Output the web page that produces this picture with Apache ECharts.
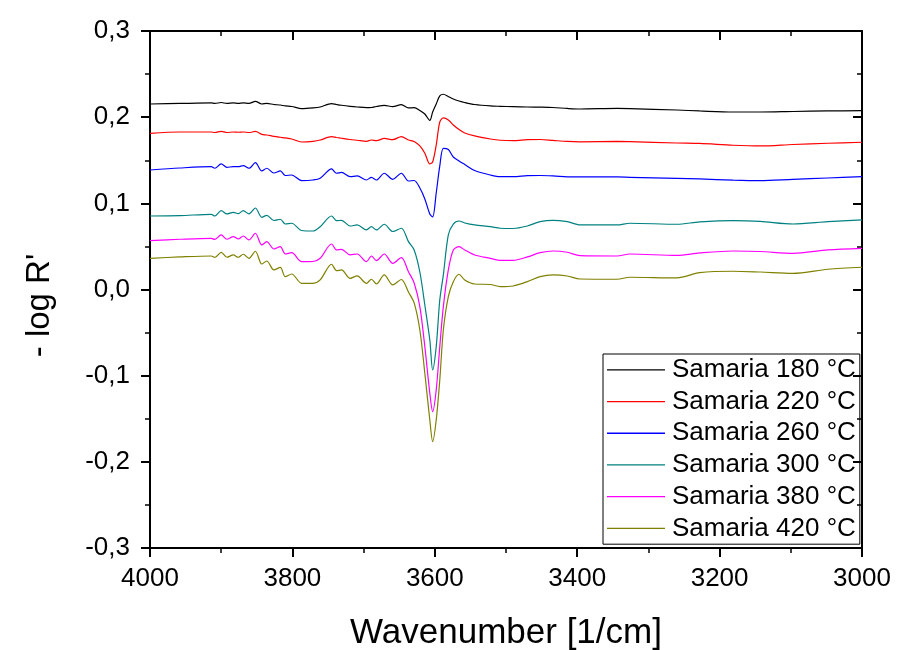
<!DOCTYPE html>
<html>
<head>
<meta charset="utf-8">
<script src="https://cdn.jsdelivr.net/npm/echarts@6/dist/echarts.min.js"></script>
<style>
html,body{margin:0;padding:0;background:#fff;}
#chart{width:897px;height:650px;}
</style>
</head>
<body>
<div id="chart"></div>
<script>
// Wavenumbers (1/cm)
const wavenumbers = [4000,3958,3914,3909,3900,3892,3883,3876,3869,3861,3852,3843,3836,3826,3817,3810,3801,3787,3771,3761,3745,3738,3731,3719,3709,3696,3689,3682,3671,3659,3647,3637,3629,3621,3614,3607,3603,3598,3593,3588,3581,3574,3566,3558,3544,3522,3508,3490,3470,3452,3434,3414,3396,3344,3326,3260,3228,3181,3143,3097,3048,3000];

const seriesNames = ['Samaria 180 °C','Samaria 220 °C','Samaria 260 °C','Samaria 300 °C','Samaria 380 °C','Samaria 420 °C'];

const s180 = [0.2153,0.2159,0.2165,0.2159,0.2170,0.2159,0.2165,0.2159,0.2165,0.2159,0.2184,0.2153,0.2161,0.2147,0.2141,0.2130,0.2124,0.2099,0.2107,0.2118,0.2157,0.2147,0.2138,0.2126,0.2118,0.2110,0.2112,0.2124,0.2138,0.2122,
0.2145,0.2107,0.2110,0.2078,0.2037,0.1962,0.2060,0.2153,0.2246,0.2266,0.2240,0.2211,0.2188,0.2170,0.2147,0.2130,0.2126,0.2122,0.2118,0.2116,0.2112,0.2101,0.2095,0.2101,0.2099,0.2083,0.2072,0.2060,0.2060,0.2066,0.2072,0.2075];

const s220 = [0.1813,0.1828,0.1828,0.1822,0.1836,0.1822,0.1828,0.1825,0.1828,0.1822,0.1834,0.1801,0.1793,0.1778,0.1767,0.1759,0.1747,0.1712,0.1720,0.1735,0.1774,0.1764,0.1755,0.1741,0.1732,0.1720,0.1735,0.1727,0.1753,0.1739,
0.1774,0.1735,0.1718,0.1666,0.1581,0.1457,0.1480,0.1677,0.1944,0.1991,0.1967,0.1909,0.1857,0.1817,0.1782,0.1747,0.1732,0.1727,0.1739,0.1741,0.1730,0.1718,0.1714,0.1718,0.1716,0.1700,0.1695,0.1674,0.1666,0.1683,0.1697,0.1709];

const s260 = [0.1387,0.1410,0.1425,0.1407,0.1457,0.1418,0.1425,0.1425,0.1437,0.1407,0.1472,0.1376,0.1407,0.1352,0.1376,0.1323,0.1329,0.1263,0.1271,0.1291,0.1399,0.1349,0.1360,0.1309,0.1318,0.1271,0.1302,0.1271,0.1349,0.1279,
0.1349,0.1259,0.1265,0.1178,0.1051,0.0877,0.0842,0.1120,0.1434,0.1637,0.1625,0.1538,0.1492,0.1451,0.1381,0.1329,0.1309,0.1309,0.1321,0.1323,0.1318,0.1308,0.1306,0.1306,0.1302,0.1289,0.1283,0.1269,0.1263,0.1279,0.1294,0.1309];

const s300 = [0.0853,0.0857,0.0873,0.0853,0.0915,0.0877,0.0896,0.0880,0.0915,0.0877,0.0946,0.0838,0.0861,0.0801,0.0815,0.0760,0.0769,0.0685,0.0679,0.0729,0.0853,0.0799,0.0803,0.0737,0.0749,0.0691,0.0729,0.0691,0.0757,0.0673,
0.0711,0.0555,0.0459,0.0203,-0.0180,-0.0586,-0.0934,-0.0663,-0.0122,0.0169,0.0633,0.0760,0.0795,0.0772,0.0749,0.0729,0.0711,0.0708,0.0737,0.0787,0.0803,0.0787,0.0749,0.0749,0.0769,0.0757,0.0784,0.0799,0.0790,0.0760,0.0787,0.0807];

const s380 = [0.0567,0.0583,0.0594,0.0581,0.0633,0.0583,0.0613,0.0586,0.0621,0.0575,0.0653,0.0517,0.0555,0.0470,0.0497,0.0412,0.0427,0.0323,0.0325,0.0362,0.0528,0.0459,0.0465,0.0401,0.0412,0.0323,0.0389,0.0335,0.0412,0.0304,
0.0369,0.0207,0.0076,-0.0199,-0.0663,-0.1204,-0.1418,-0.1166,-0.0663,-0.0199,0.0227,0.0459,0.0497,0.0459,0.0401,0.0362,0.0337,0.0337,0.0378,0.0427,0.0447,0.0432,0.0393,0.0389,0.0412,0.0395,0.0424,0.0447,0.0441,0.0420,0.0459,0.0478];

const s420 = [0.0362,0.0378,0.0389,0.0372,0.0432,0.0374,0.0401,0.0374,0.0409,0.0362,0.0444,0.0296,0.0331,0.0227,0.0256,0.0149,0.0180,0.0072,0.0072,0.0111,0.0293,0.0219,0.0227,0.0130,0.0157,0.0072,0.0119,0.0064,0.0169,0.0053,
0.0116,-0.0029,-0.0156,-0.0470,-0.0972,-0.1514,-0.1766,-0.1514,-0.1050,-0.0470,-0.0083,0.0091,0.0177,0.0111,0.0064,0.0058,0.0033,0.0041,0.0091,0.0149,0.0169,0.0157,0.0122,0.0119,0.0142,0.0134,0.0195,0.0212,0.0203,0.0188,0.0235,0.0258];

const seriesColors = ['#000000','#ff0000','#0000ff','#008080','#ff00ff','#808000'];
const yTickLabels = ['-0,3','-0,2','-0,1','0,0','0,1','0,2','0,3'];

const allValues = [s180, s220, s260, s300, s380, s420];
const font = 'Liberation Sans, Arial, sans-serif';

const chart = echarts.init(document.getElementById('chart'), null, {renderer: 'canvas'});

function axisCommon(inside) {
  return {
    axisLine: {show: true, onZero: false, lineStyle: {color: '#000', width: 2}},
    axisTick: {show: true, inside: inside, length: 9, lineStyle: {color: '#000', width: 2}},
    minorTick: {show: true, splitNumber: 2, length: 5, lineStyle: {color: '#000', width: 1.5}},
    splitLine: {show: false},
    minorSplitLine: {show: false}
  };
}

const option = {
  animation: false,
  backgroundColor: '#fff',
  grid: {left: 150, right: 35, top: 31, bottom: 102, containLabel: false, outerBoundsMode: 'none'},
  xAxis: [
    Object.assign(axisCommon(false), {
      type: 'value', min: 3000, max: 4000, interval: 200, inverse: true, position: 'bottom',
      axisLabel: {fontSize: 26, color: '#000', fontFamily: font, margin: 18,
        formatter: v => String(Math.round(v))},
      name: 'Wavenumber [1/cm]', nameLocation: 'middle', nameGap: 68,
      nameTextStyle: {fontSize: 35, color: '#000', fontFamily: font}
    }),
    Object.assign(axisCommon(true), {
      type: 'value', min: 3000, max: 4000, interval: 200, inverse: true, position: 'top',
      axisLabel: {show: false}
    })
  ],
  yAxis: [
    Object.assign(axisCommon(false), {
      type: 'value', min: -0.3, max: 0.3, interval: 0.1, position: 'left',
      axisLabel: {fontSize: 26, color: '#000', fontFamily: font, margin: 20,
        formatter: v => yTickLabels[Math.round((v + 0.3) / 0.1)]},
      name: "- log R'", nameLocation: 'middle', nameGap: 94,
      nameTextStyle: {fontSize: 33, color: '#000', fontFamily: font, padding: [0, 32, 0, 0]}
    }),
    Object.assign(axisCommon(true), {
      type: 'value', min: -0.3, max: 0.3, interval: 0.1, position: 'right',
      axisLabel: {show: false}
    })
  ],
  legend: {
    orient: 'vertical', left: 603, top: 354,
    icon: 'rect',
    itemWidth: 58, itemHeight: 1.3, itemGap: 0,
    padding: [0, 4, 0, 4],
    borderColor: '#000', borderWidth: 1,
    textStyle: {fontSize: 26, color: '#000', fontFamily: font, lineHeight: 31.7, padding: [0, 0, 0, 2]},
    data: seriesNames
  },
  series: seriesNames.map((name, i) => ({
    name: name,
    type: 'line',
    xAxisIndex: 0, yAxisIndex: 0,
    symbol: 'none', showSymbol: false,
    smooth: 0.3,
    lineStyle: {color: seriesColors[i], width: 1.2},
    itemStyle: {color: seriesColors[i]},
    data: wavenumbers.map((w, k) => [w, allValues[i][k]])
  }))
};

chart.setOption(option);
</script>
</body>
</html>
